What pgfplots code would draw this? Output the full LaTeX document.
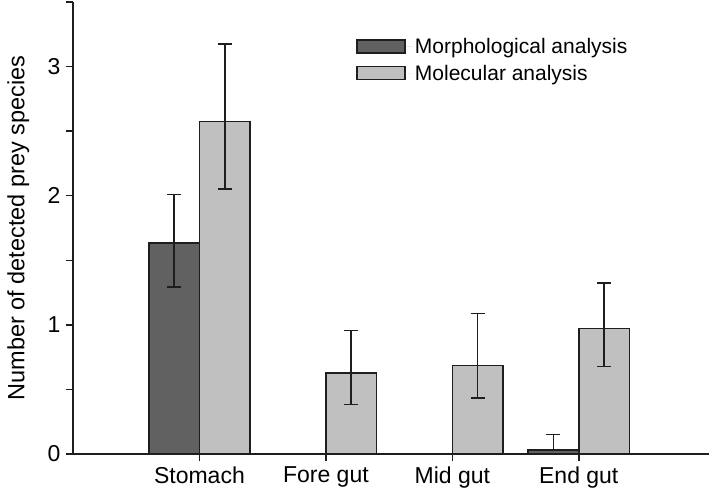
\documentclass[border=0pt]{standalone}
\usepackage{pgfplots}
\pgfplotsset{compat=1.18}
\usepackage{fontspec}
\setmainfont{Liberation Sans}
\definecolor{darkbar}{RGB}{97,97,97}
\definecolor{lightbar}{RGB}{192,192,192}
\definecolor{ink}{RGB}{30,30,30}
\begin{document}
\begin{tikzpicture}
\begin{axis}[
  at={(0,0)}, anchor=south west,
  scale only axis,
  width=636pt, height=452pt,
  xmin=0, xmax=5.03, ymin=0, ymax=3.5,
  axis lines=left,
  axis line style={-, line width=1.5pt, ink},
  every tick/.style={line width=1.5pt, ink},
  tick align=outside,
  major tick length=7pt, minor tick length=7pt,
  xtick={1,2,3,4},
  xticklabels={Stomach, Fore gut, Mid gut, End gut},
  ytick={0,1,2,3},
  minor ytick={0.5,1.5,2.5,3.5},
  /pgf/number format/assume math mode=true,
  tick label style={font=\fontsize{23}{27}\selectfont},
  xticklabel style={yshift=-2pt},
  yticklabel style={xshift=-2pt},
  ylabel={Number of detected prey species},
  ylabel style={font=\fontsize{23.5}{28}\selectfont, at={(axis description cs:-0.086,0.5)}, anchor=center},
  legend style={draw=none, fill=none, font=\fontsize{21}{25}\selectfont,
    at={(axis description cs:0.445,0.925)}, anchor=north west, inner sep=0pt,
    row sep=6pt, cells={anchor=west}},
  legend image code/.code={\draw[#1, line width=1.5pt] (0pt,-6.5pt) rectangle (48pt,6.5pt); \path[draw=none] (0pt,0pt) -- (56pt,0pt);},
  bar width=0.4,
  clip=false,
]
\addplot[ybar, bar shift=0pt, fill=darkbar, draw=ink, line width=1.5pt,
  error bars/.cd, y dir=both, y explicit,
  error bar style={line width=1.6pt, ink},
  error mark options={rotate=90, mark size=7pt, line width=1.6pt, ink}]
  coordinates {
    (0.8,1.633) += (0,0.375) -= (0,0.338)
    (3.8,0.03) += (0,0.12) -= (0,0.0)
  };
\addlegendentry{Morphological analysis}
\addplot[ybar, bar shift=0pt, fill=lightbar, draw=ink, line width=1.5pt,
  error bars/.cd, y dir=both, y explicit,
  error bar style={line width=1.6pt, ink},
  error mark options={rotate=90, mark size=7pt, line width=1.6pt, ink}]
  coordinates {
    (1.2,2.576) += (0,0.597) -= (0,0.524)
    (2.2,0.628) += (0,0.328) -= (0,0.246)
    (3.2,0.687) += (0,0.401) -= (0,0.255)
    (4.2,0.971) += (0,0.352) -= (0,0.294)
  };
\addlegendentry{Molecular analysis}
\end{axis}
\draw[line width=1.5pt, ink] (0pt,0pt) -- (634pt,0pt);
\pgfresetboundingbox
\path[use as bounding box] (-73pt,-41pt) rectangle (636pt,454pt);
\end{tikzpicture}
\end{document}
